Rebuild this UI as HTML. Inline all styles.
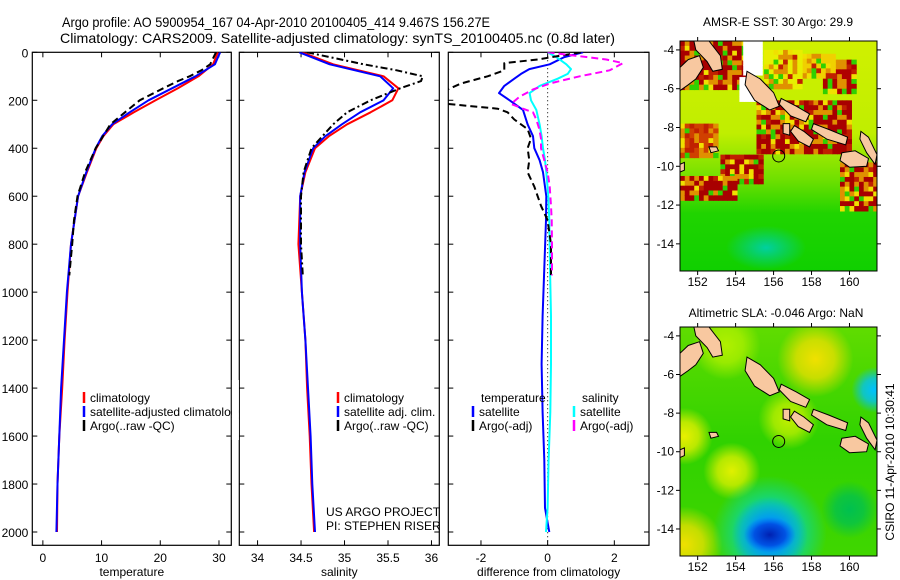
<!DOCTYPE html>
<html><head><meta charset="utf-8"><style>
html,body{margin:0;padding:0;background:#fff;}
svg{display:block;font-family:"Liberation Sans",sans-serif;}
</style></head><body>
<svg id="fig" width="900" height="580" viewBox="0 0 900 580" xmlns="http://www.w3.org/2000/svg">
<rect width="900" height="580" fill="#fff"/>
<text x="62" y="27" font-size="14" textLength="428" lengthAdjust="spacingAndGlyphs">Argo profile: AO 5900954_167 04-Apr-2010 20100405_414 9.467S 156.27E</text>
<text x="60" y="43" font-size="14" textLength="555" lengthAdjust="spacingAndGlyphs">Climatology: CARS2009. Satellite-adjusted climatology: synTS_20100405.nc (0.8d later)</text>
<text x="778" y="26" font-size="12" text-anchor="middle">AMSR-E SST: 30 Argo: 29.9</text>
<text x="776" y="317" font-size="12" text-anchor="middle">Altimetric SLA: -0.046 Argo: NaN</text>
<text transform="translate(894,462) rotate(-90)" font-size="12" text-anchor="middle">CSIRO 11-Apr-2010 10:30:41</text>
<g id="plots"></g>
</svg>
<script>
// ---------- data ----------
const climDepths = [0,50,100,150,200,250,300,350,400,500,600,800,1000,1200,1400,1600,1800,2000];
const tempClim = [29.8,29,26.5,23,19.2,15.5,12,10.3,9.1,7.5,6,4.8,4.2,3.7,3.3,2.8,2.5,2.4];
const tempSat  = [30.2,29.3,26,22,18,14.8,11.8,10.1,9.0,7.4,6,4.8,4.1,3.6,3.1,2.8,2.5,2.3];
const salClim  = [34.51,34.87,35.45,35.62,35.55,35.3,35.03,34.82,34.66,34.55,34.49,34.47,34.51,34.55,34.57,34.6,34.62,34.65];
const salSat   = [34.48,34.83,35.41,35.56,35.45,35.18,34.97,34.78,34.64,34.54,34.49,34.49,34.51,34.55,34.58,34.61,34.63,34.66];
const argoDepths = [0,50,75,100,120,150,200,250,300,400,500,600,700,800,930];
const tempArgo = [29.5,28.5,27,25,23,20.5,16.5,14,11.5,9,7.2,5.9,5.3,5,4.5];
const salArgo  = [34.57,35.22,35.6,35.9,35.88,35.64,35.3,35.03,34.87,34.62,34.53,34.5,34.5,34.5,34.52];
const diffDepths = [0,20,50,70,90,110,140,170,200,240,300,350,400,450,500,600,700,900,1100,1300,1500,1700,1900,2000];
const dTempSat = [1.06,0.5,0.06,-0.55,-0.8,-1.0,-1.3,-1.46,-1.14,-0.74,-0.6,-0.44,-0.4,-0.24,-0.14,-0.04,-0.05,-0.1,-0.15,-0.18,-0.15,-0.1,-0.08,0.05];
const dSalSat  = [0,0.26,0.56,0.7,0.6,0.3,-0.24,-0.54,-0.5,-0.34,-0.24,-0.18,-0.14,-0.08,-0.04,0.02,0.05,0.07,0.1,0.1,0.08,0.03,0.0,-0.05];
const dArgoDepths = [0,30,45,75,100,130,155,185,215,235,250,280,320,360,400,450,500,560,640,700,800,930];
const dTempArgo = [1.0,-0.3,-1.3,-1.3,-1.8,-2.6,-3.0,-3.2,-3.0,-1.5,-1.2,-1.0,-0.6,-0.5,-0.6,-0.55,-0.6,-0.4,-0.2,0.0,0.1,0.1];
const dSalArgo  = [0,1.76,2.26,1.86,0.96,0.06,-0.44,-0.84,-1.1,-0.74,-0.44,-0.34,-0.25,-0.2,-0.2,-0.1,0,0.06,0.1,0.12,0.13,0.13];
const depthTicks = [0,200,400,600,800,1000,1200,1400,1600,1800,2000];
const tempTicks = [0,10,20,30];
const salTicks = [34,34.5,35,35.5,36];
const diffTicks = [-2,0,2];
const lonTicks = [152,154,156,158,160];
const latTicks = [-4,-6,-8,-10,-12,-14];
const argoPos = [156.27,-9.467];

const NS="http://www.w3.org/2000/svg";
const root=document.getElementById('plots');
function el(tag,attrs,parent){const e=document.createElementNS(NS,tag);for(const k in attrs)e.setAttribute(k,attrs[k]);(parent||root).appendChild(e);return e;}

// ---------- profile panels ----------
const Y0=52.3,Y1=545.3;
const yD=d=>Y0+d*0.23985;
function panel(name,x0,x1,dom,ticks,fmt,title,showY){
  const g=el('g',{});
  
  
  const sx=v=>x0+(v-dom[0])/(dom[1]-dom[0])*(x1-x0);
  const r=el('rect',{x:x0,y:Y0,width:x1-x0,height:Y1-Y0,fill:'#fff',stroke:'#000','stroke-width':1.2},g);
  
  
  depthTicks.forEach(d=>{
    const y=yD(d);
    el('line',{x1:x0,x2:x0+5,y1:y,y2:y,stroke:'#000'},g);
    el('line',{x1:x1-5,x2:x1,y1:y,y2:y,stroke:'#000'},g);
    if(showY){const t=el('text',{x:x0-4,y:y+5,'font-size':12,'text-anchor':'end'},g);t.textContent=d;
      
      }
  });
  ticks.forEach(v=>{
    const x=sx(v);
    el('line',{x1:x,x2:x,y1:Y1,y2:Y1-5,stroke:'#000'},g);
    el('line',{x1:x,x2:x,y1:Y0,y2:Y0+5,stroke:'#000'},g);
    const t=el('text',{x:x,y:562,'font-size':12,'text-anchor':'middle'},g);t.textContent=fmt(v);
    
    
  });
  const tt=el('text',{x:(x0+x1)/2,y:576,'font-size':12,'text-anchor':'middle'},g);tt.textContent=title;
  
  
  const cid='clip'+name;
  const cp=el('clipPath',{id:cid},g);el('rect',{x:x0,y:Y0,width:x1-x0,height:Y1-Y0},cp);
  const lg=el('g',{'clip-path':'url(#'+cid+')'},g);
  return {g,sx,lg};
}
function line(P,depths,vals,color,name,dash){
  const pts=depths.map((d,i)=>P.sx(vals[i]).toFixed(1)+','+yD(d).toFixed(1)).join(' ');
  const p=el('polyline',{points:pts,fill:'none',stroke:color,'stroke-width':2,'stroke-linejoin':'round'},P.lg);
  if(dash)p.setAttribute('stroke-dasharray',dash);
  
  
}
function legend(g,x,y,color,label,name){
  el('line',{x1:x,x2:x,y1:y-10,y2:y+1,stroke:color,'stroke-width':2.5},g);
  const t=el('text',{x:x+6,y:y,'font-size':12},g);t.textContent=label;
  
  
}
const P1=panel('temperature-panel',32.3,231.3,[-1.8,32.1],tempTicks,v=>v,'temperature',true);
line(P1,climDepths,tempClim,'#ff0000','temp-climatology-line');
line(P1,climDepths,tempSat,'#0000ff','temp-satellite-line');
line(P1,argoDepths,tempArgo,'#000','temp-argo-line','7,4');
const P2=panel('salinity-panel',239.3,439.3,[33.79,36.09],salTicks,v=>v,'salinity',false);
line(P2,climDepths,salClim,'#ff0000','sal-climatology-line');
line(P2,climDepths,salSat,'#0000ff','sal-satellite-line');
line(P2,argoDepths,salArgo,'#000','sal-argo-line','7,3,2,3');
const P3=panel('difference-panel',448.3,649,[-2.98,3.04],diffTicks,v=>v,'difference from climatology',false);
el('line',{x1:P3.sx(0),x2:P3.sx(0),y1:Y0,y2:Y1,stroke:'#000','stroke-dasharray':'1,3'},P3.lg);
line(P3,diffDepths,dTempSat,'#0000ff','dtemp-satellite-line');
line(P3,diffDepths,dSalSat,'#00ffff','dsal-satellite-line');
line(P3,dArgoDepths,dTempArgo,'#000','dtemp-argo-line','7,4');
line(P3,dArgoDepths,dSalArgo,'#ff00ff','dsal-argo-line','7,4');
legend(P1.g,84,402,'#ff0000','climatology','legend-climatology');
legend(P1.g,84,416,'#0000ff','satellite-adjusted climatology','legend-satellite-adjusted');
legend(P1.g,84,430,'#000','Argo(..raw -QC)','legend-argo');
P2.g.parentNode.appendChild(P2.g);
el('rect',{x:231.9,y:380,width:7,height:60,fill:'#fff'});
legend(P2.g,338,402,'#ff0000','climatology','legend-climatology-2');
legend(P2.g,338,416,'#0000ff','satellite adj. clim.','legend-satellite-2');
legend(P2.g,338,430,'#000','Argo(..raw -QC)','legend-argo-2');
[['US ARGO PROJECT',516,'project-label'],['PI: STEPHEN RISER',530,'pi-label']].forEach(a=>{
  const t=el('text',{x:326,y:a[1],'font-size':12},P2.g);t.textContent=a[0];
  
  });
let tl=el('text',{x:481,y:402,'font-size':12},P3.g);tl.textContent='temperature';


tl=el('text',{x:582,y:402,'font-size':12},P3.g);tl.textContent='salinity';


legend(P3.g,473,416,'#0000ff','satellite','legend-temp-satellite');
legend(P3.g,473,430,'#000','Argo(-adj)','legend-temp-argo');
legend(P3.g,574,416,'#00ffff','satellite','legend-sal-satellite');
legend(P3.g,574,430,'#ff00ff','Argo(-adj)','legend-sal-argo');

// ---------- maps ----------
const LON0=151.07,LON1=161.45,LAT0=-3.54,LAT1=-15.4;
const land=[
 [[151.8,-3.54],[152.6,-3.54],[153.2,-4.3],[153.3,-5.0],[152.8,-5.1],[152.5,-4.6],[151.9,-4.0]],
 [[151.07,-4.9],[151.5,-4.5],[152.1,-4.3],[152.3,-4.9],[151.9,-5.5],[151.5,-5.8],[151.07,-6.1]],
 [[154.6,-5.1],[155.3,-5.5],[156.0,-6.2],[156.3,-6.9],[155.8,-7.1],[155.0,-6.6],[154.5,-5.8]],
 [[156.4,-6.5],[157.2,-6.9],[157.9,-7.3],[157.7,-7.7],[156.9,-7.4],[156.3,-6.8]],
 [[158.1,-7.8],[158.9,-8.1],[159.9,-8.5],[159.8,-8.9],[158.8,-8.6],[158.0,-8.1]],
 [[157.1,-7.9],[157.6,-8.2],[158.1,-8.6],[157.9,-9.0],[157.3,-8.7],[156.9,-8.2]],
 [[156.5,-7.8],[156.85,-7.8],[156.85,-8.4],[156.5,-8.3]],
 [[159.6,-9.3],[160.3,-9.2],[161.0,-9.6],[160.9,-10.0],[160.0,-10.05],[159.5,-9.7]],
 [[160.6,-8.2],[161.0,-8.5],[161.45,-9.4],[161.35,-9.9],[160.9,-9.3],[160.55,-8.6]],
 [[152.6,-9.0],[153.0,-9.0],[153.1,-9.2],[152.7,-9.3]],
 [[151.07,-9.9],[151.3,-9.8],[151.3,-10.2],[151.07,-10.3]]
];
// SST anomaly patches: lon1,lat1,lon2,lat2,color
const sstPatches=[
 [151.07,-3.54,154.4,-5.9,'#a80000'],[154.4,-3.54,155.4,-5.1,'#ffffff'],[154.2,-5.4,155.0,-6.5,'#ffffff'],
 [155.1,-6.6,159.9,-9.2,'#a80000'],[158.6,-4.5,160.2,-6.2,'#b00000'],[151.07,-7.8,153.0,-9.4,'#d04000'],
 [153.2,-9.4,155.3,-10.9,'#a80000'],[151.07,-10.5,154.0,-11.7,'#a80000'],[159.5,-9.8,161.45,-12.2,'#a80000'],
 [157.5,-4.2,159.2,-5.4,'#f0d000'],[155.5,-4.0,157.5,-6.0,'#e8ee00']
];
const slaBlobs=[ // lon,lat,radius(deg),color
 [158.2,-5.2,2.0,'#f0e000'],[151.3,-14.8,2.0,'#f0e000'],[151.3,-9.2,1.5,'#e8f000'],[153.8,-11.0,1.5,'#e0f000'],
 [156.8,-8.3,1.6,'#c0f000'],[153.5,-4.5,1.8,'#b0f000'],
 [155.8,-14.2,3.0,'#00d8c0'],[155.8,-14.3,2.0,'#0090ff'],[161.3,-6.8,1.2,'#00c0ff'],[160.0,-13.0,1.5,'#00c050']
];
function hash(i,j,k){let h=(i*374761393+j*668265263+k*2246822519)|0;h=(h^(h>>>13))*1274126177|0;return ((h^(h>>>16))>>>0)%10;}
function mapPanel(name,y0,y1,kind){
  const x0=680,x1=877;
  const g=el('g',{});
  
  
  const sx=lon=>x0+(lon-LON0)/(LON1-LON0)*(x1-x0);
  const sy=lat=>y0+(LAT0-lat)/(LAT0-LAT1)*(y1-y0);
  const cid='clip'+name;const cp=el('clipPath',{id:cid},g);el('rect',{x:x0,y:y0,width:x1-x0,height:y1-y0},cp);
  const m=el('g',{'clip-path':'url(#'+cid+')'},g);
  const gid='grad'+name;const defs=el('defs',{},g);
  const lgd=el('linearGradient',{id:gid,x1:0,y1:0,x2:0,y2:1},defs);
  if(kind==='sst'){
    [['0','#d0f000'],['0.4','#c0ee00'],['0.6','#70e000'],['0.75','#20d400'],['1','#10d000']].forEach(s=>el('stop',{offset:s[0],'stop-color':s[1]},lgd));
  } else {
    [['0','#60dc00'],['0.5','#30d200'],['1','#40d600']].forEach(s=>el('stop',{offset:s[0],'stop-color':s[1]},lgd));
  }
  el('rect',{x:x0,y:y0,width:x1-x0,height:y1-y0,fill:'url(#'+gid+')'},m);
  if(kind==='sst'){
    sstPatches.forEach((p,k)=>{
      const step=0.25;
      for(let lo=p[0];lo<p[2]-1e-6;lo+=step)for(let la=p[1];la>p[3]+1e-6;la-=step){
        const i=Math.round(lo*4),j=Math.round(la*4);
        const h=hash(i,j,k);
        let c=p[4];
        if(c!=='#ffffff'){ if(h<2)c='#e09000'; else if(h===2)c='#f0e000'; else if(h===3)c='#30d000'; else if(h===4)c='#c02000'; }
        el('rect',{x:sx(lo),y:sy(la),width:step*19+0.6,height:step*19.4+0.6,fill:c},m);
      }
    });
    const tg=el('radialGradient',{id:'teal'+name},defs);
    el('stop',{offset:'0','stop-color':'#00d0a0'},tg);el('stop',{offset:'1','stop-color':'#00d0a0','stop-opacity':0},tg);
    el('ellipse',{cx:sx(155.6),cy:sy(-14.2),rx:40,ry:22,fill:'url(#teal'+name+')'},m);
  } else {
    slaBlobs.forEach((b,k)=>{
      const rg=el('radialGradient',{id:'b'+k+name},defs);
      el('stop',{offset:'0','stop-color':b[3]},rg);
      el('stop',{offset:'0.5','stop-color':b[3],'stop-opacity':0.75},rg);
      el('stop',{offset:'1','stop-color':b[3],'stop-opacity':0},rg);
      el('circle',{cx:sx(b[0]),cy:sy(b[1]),r:b[2]*19,fill:'url(#b'+k+name+')'},m);
    });
    const cg=el('radialGradient',{id:'core'+name},defs);
    el('stop',{offset:'0','stop-color':'#0020b0'},cg);el('stop',{offset:'0.6','stop-color':'#0040e0','stop-opacity':0.8},cg);el('stop',{offset:'1','stop-color':'#0060ff','stop-opacity':0},cg);
    el('ellipse',{cx:sx(155.8),cy:sy(-14.3),rx:26,ry:18,fill:'url(#core'+name+')'},m);
  }
  land.forEach(poly=>{
    const pts=poly.map(q=>sx(q[0]).toFixed(1)+','+sy(q[1]).toFixed(1)).join(' ');
    const pg=el('polygon',{points:pts,fill:'#f8c8a0',stroke:'#000','stroke-width':1},m);
    
    
  });
  const c=el('circle',{cx:sx(argoPos[0]),cy:sy(argoPos[1]),r:6,fill:'none',stroke:'#000','stroke-width':1},m);
  
  
  el('rect',{x:x0,y:y0,width:x1-x0,height:y1-y0,fill:'none',stroke:'#000','stroke-width':1},g);
  lonTicks.forEach(v=>{const x=sx(v);
    el('line',{x1:x,x2:x,y1:y1,y2:y1+4,stroke:'#000'},g);
    el('line',{x1:x,x2:x,y1:y0,y2:y0-4,stroke:'#000'},g);
    const t=el('text',{x:x,y:y1+15,'font-size':12,'text-anchor':'middle'},g);t.textContent=v;
    
    });
  latTicks.forEach(v=>{const y=sy(v);
    el('line',{x1:x0-4,x2:x0,y1:y,y2:y,stroke:'#000'},g);
    el('line',{x1:x1,x2:x1+4,y1:y,y2:y,stroke:'#000'},g);
    const t=el('text',{x:x0-6,y:y+4,'font-size':12,'text-anchor':'end'},g);t.textContent=v;
    
    });
}
mapPanel('sst-map',41,271,'sst');
mapPanel('sla-map',327,556,'sla');
</script>
</body></html>
